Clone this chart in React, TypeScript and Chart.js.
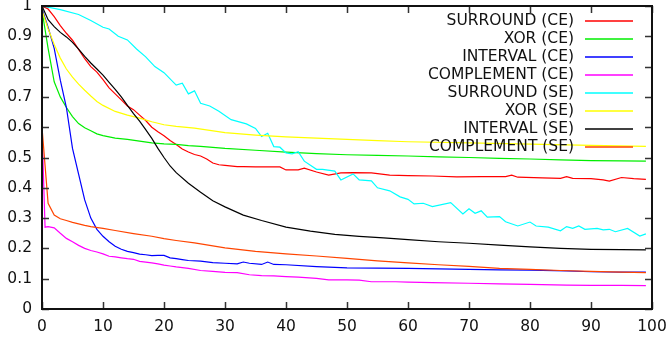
import React, { useEffect, useRef } from "react";
import { Chart, registerables } from "chart.js";

Chart.register(...registerables);

// ---- tick labels ----
const xTickLabels = ["0", "10", "20", "30", "40", "50", "60", "70", "80", "90", "100"];
const yTickLabels = ["0", "0.1", "0.2", "0.3", "0.4", "0.5", "0.6", "0.7", "0.8", "0.9", "1"];

// ---- series labels ----
const seriesLabels = [
  "SURROUND (CE)",
  "XOR (CE)",
  "INTERVAL (CE)",
  "COMPLEMENT (CE)",
  "SURROUND (SE)",
  "XOR (SE)",
  "INTERVAL (SE)",
  "COMPLEMENT (SE)",
];
const seriesColors = ["#ff0000", "#00ee00", "#0000ff", "#ff00ff", "#00ffff", "#ffff00", "#000000", "#ff4500"];

// ---- SURROUND (CE) ----
const surroundCeX = [0, 1, 2, 3, 4, 5, 6, 7, 8, 9, 10, 11, 12, 13, 14, 15, 16, 17, 18, 19, 20, 21, 22, 23, 24, 25, 26, 27, 28, 29, 30, 32, 33, 35, 37, 39, 40, 42, 43, 45, 47, 49, 51, 54, 57, 60, 64, 68, 72, 76, 77, 78, 82, 85, 86, 87, 90, 92, 93, 95, 97, 99];
const surroundCeY = [1.0, 0.99, 0.965, 0.935, 0.91, 0.887, 0.857, 0.826, 0.8, 0.782, 0.757, 0.73, 0.71, 0.69, 0.67, 0.658, 0.64, 0.622, 0.6, 0.585, 0.572, 0.556, 0.543, 0.528, 0.518, 0.51, 0.505, 0.495, 0.482, 0.476, 0.474, 0.47, 0.47, 0.469, 0.469, 0.469, 0.459, 0.459, 0.465, 0.452, 0.442, 0.449, 0.45, 0.449, 0.442, 0.44, 0.439, 0.436, 0.437, 0.437, 0.442, 0.435, 0.433, 0.431, 0.437, 0.431, 0.43, 0.426, 0.422, 0.434, 0.43, 0.428];

// ---- XOR (CE) ----
const xorCeX = [0, 1, 2, 3, 4, 5, 6, 7, 8, 9, 10, 12, 14, 16, 18, 20, 22, 24, 26, 30, 35, 40, 45, 50, 55, 60, 65, 70, 75, 80, 85, 90, 95, 99];
const xorCeY = [0.985, 0.86, 0.75, 0.7, 0.665, 0.635, 0.612, 0.598, 0.588, 0.578, 0.572, 0.564, 0.56, 0.554, 0.548, 0.545, 0.543, 0.539, 0.537, 0.53, 0.524, 0.518, 0.513, 0.509, 0.507, 0.505, 0.502, 0.5, 0.497, 0.495, 0.492, 0.49, 0.489, 0.488];

// ---- INTERVAL (CE) ----
const intervalCeX = [0, 1, 2, 3, 4, 5, 6, 7, 8, 9, 10, 11, 12, 13, 14, 15, 16, 17, 18, 19, 20, 21, 22, 23, 24, 26, 28, 30, 32, 33, 34, 36, 37, 38, 40, 45, 50, 55, 60, 70, 75, 80, 86, 90, 95, 99];
const intervalCeY = [0.99, 0.93, 0.86, 0.755, 0.665, 0.53, 0.445, 0.36, 0.3, 0.263, 0.24, 0.222, 0.207, 0.197, 0.19, 0.186, 0.181, 0.179, 0.176, 0.177, 0.177, 0.169, 0.166, 0.163, 0.16, 0.158, 0.153, 0.151, 0.149, 0.155, 0.151, 0.147, 0.155, 0.147, 0.146, 0.14, 0.136, 0.135, 0.134, 0.131, 0.129, 0.128, 0.126, 0.123, 0.122, 0.122];

// ---- COMPLEMENT (CE) ----
const complementCeX = [0, 0.5, 1, 2, 3, 4, 5, 6, 7, 8, 9, 10, 11, 12, 13, 14, 15, 16, 17, 18, 19, 20, 21, 22, 24, 26, 28, 30, 32, 34, 36, 38, 40, 42, 45, 47, 50, 52, 54, 58, 60, 64, 70, 75, 80, 86, 90, 95, 99];
const complementCeY = [0.6, 0.27, 0.272, 0.268, 0.25, 0.233, 0.222, 0.21, 0.2, 0.193, 0.188, 0.182, 0.174, 0.172, 0.169, 0.166, 0.164, 0.157, 0.155, 0.152, 0.149, 0.145, 0.142, 0.139, 0.134, 0.127, 0.124, 0.121, 0.12, 0.113, 0.11, 0.109, 0.107, 0.105, 0.101, 0.096, 0.096, 0.095, 0.09, 0.09, 0.089, 0.087, 0.085, 0.083, 0.081, 0.079, 0.078, 0.078, 0.077];

// ---- SURROUND (SE) ----
const surroundSeX = [0, 3, 6, 8, 10, 11, 12.5, 14, 15.5, 17, 18.5, 20, 22, 23, 24, 25, 26, 27.5, 29, 31, 33.5, 35, 36, 37, 38, 39, 40, 41, 42, 43, 45, 46, 48, 49, 51, 52, 54, 55, 57, 58.7, 60, 61, 62.5, 64, 67, 69, 70, 71, 72, 73, 75, 76, 78, 80, 81, 83, 85, 86, 87, 88, 89, 91, 92, 93, 94, 96, 98, 99];
const surroundSeY = [1.0, 0.988, 0.972, 0.952, 0.93, 0.924, 0.9, 0.888, 0.858, 0.832, 0.8, 0.78, 0.739, 0.745, 0.71, 0.72, 0.679, 0.67, 0.653, 0.625, 0.611, 0.596, 0.569, 0.58, 0.536, 0.534, 0.515, 0.512, 0.519, 0.488, 0.461, 0.461, 0.455, 0.426, 0.446, 0.426, 0.423, 0.4, 0.39, 0.37, 0.362, 0.347, 0.349, 0.338, 0.351, 0.314, 0.331, 0.316, 0.324, 0.303, 0.305, 0.288, 0.274, 0.287, 0.274, 0.27, 0.258, 0.272, 0.266, 0.274, 0.263, 0.266, 0.261, 0.263, 0.255, 0.266, 0.241, 0.248];

// ---- XOR (SE) ----
const xorSeX = [0, 1, 2, 3, 4, 5, 6, 7, 8, 9, 10, 12, 14, 16, 18, 20, 22, 25, 30, 35, 40, 46, 50, 55, 60, 70, 80, 90, 99];
const xorSeY = [0.985, 0.925, 0.873, 0.828, 0.792, 0.765, 0.742, 0.722, 0.703, 0.685, 0.672, 0.652, 0.64, 0.63, 0.618, 0.608, 0.603, 0.597, 0.582, 0.574, 0.568, 0.563, 0.56, 0.556, 0.552, 0.548, 0.544, 0.54, 0.537];

// ---- INTERVAL (SE) ----
const intervalSeX = [0, 1, 2, 3, 4, 5, 6, 7, 8, 9, 10, 11, 12, 13, 14, 15, 16, 17, 18, 19, 20, 21, 22, 24, 26, 28, 30, 33, 36, 40, 44, 48, 52, 56, 60, 65, 70, 75, 80, 85, 90, 95, 99];
const intervalSeY = [1.0, 0.955, 0.932, 0.913, 0.898, 0.88, 0.858, 0.834, 0.812, 0.792, 0.772, 0.748, 0.725, 0.7, 0.672, 0.645, 0.62, 0.592, 0.563, 0.53, 0.5, 0.472, 0.45, 0.415, 0.385, 0.357, 0.337, 0.31, 0.292, 0.27, 0.257, 0.246, 0.24, 0.235, 0.229, 0.222, 0.217, 0.211, 0.205, 0.2, 0.197, 0.196, 0.195];

// ---- COMPLEMENT (SE) ----
const complementSeX = [0, 1, 2, 3, 4, 5, 6, 7, 8, 10, 12, 15, 18, 20, 22, 25, 30, 35, 40, 45, 50, 55, 60, 65, 70, 75, 80, 85, 90, 95, 99];
const complementSeY = [0.6, 0.349, 0.31, 0.298, 0.292, 0.286, 0.281, 0.276, 0.272, 0.266, 0.259, 0.249, 0.24, 0.232, 0.226, 0.218, 0.202, 0.19, 0.182, 0.175, 0.167, 0.159, 0.152, 0.146, 0.141, 0.134, 0.131, 0.127, 0.124, 0.122, 0.12];

const seriesX = [surroundCeX, xorCeX, intervalCeX, complementCeX, surroundSeX, xorSeX, intervalSeX, complementSeX];
const seriesY = [surroundCeY, xorCeY, intervalCeY, complementCeY, surroundSeY, xorSeY, intervalSeY, complementSeY];

const FONT = '"DejaVu Sans", sans-serif';
const FONT_SIZE = 15.5;

const framePlugin = {
  id: "gpFrame",
  afterDraw(chart: any) {
    const { ctx, chartArea } = chart;
    const { left, right, top, bottom } = chartArea;
    const xs = chart.scales.x;
    const ys = chart.scales.y;
    ctx.save();
    // ticks (inward, mirrored)
    ctx.strokeStyle = "#333";
    ctx.lineWidth = 1.5;
    const tl = 7;
    xs.ticks.forEach((t: any) => {
      const px = Math.round(xs.getPixelForValue(t.value)) + 0.5;
      ctx.beginPath();
      ctx.moveTo(px, bottom);
      ctx.lineTo(px, bottom - tl);
      ctx.moveTo(px, top);
      ctx.lineTo(px, top + tl);
      ctx.stroke();
    });
    ys.ticks.forEach((t: any) => {
      const py = Math.round(ys.getPixelForValue(t.value)) + 0.5;
      ctx.beginPath();
      ctx.moveTo(left, py);
      ctx.lineTo(left + tl, py);
      ctx.moveTo(right, py);
      ctx.lineTo(right - tl, py);
      ctx.stroke();
    });
    // border
    ctx.strokeStyle = "#111";
    ctx.lineWidth = 2;
    ctx.strokeRect(left, top, right - left, bottom - top);

    // legend (gnuplot style: text right aligned, sample to the right)
    ctx.font = `${FONT_SIZE}px ${FONT}`;
    ctx.textAlign = "right";
    ctx.textBaseline = "middle";
    seriesLabels.forEach((label, i) => {
      const y = 20.5 + i * 18.1;
      ctx.fillStyle = "#111";
      ctx.fillText(label, 574, y);
      ctx.strokeStyle = seriesColors[i];
      ctx.lineWidth = 1.5;
      ctx.beginPath();
      ctx.moveTo(585, Math.round(y));
      ctx.lineTo(633, Math.round(y));
      ctx.stroke();
    });
    ctx.restore();
  },
};

export default function App() {
  const canvasRef = useRef<HTMLCanvasElement | null>(null);

  useEffect(() => {
    if (!canvasRef.current) return;
    const datasets = seriesLabels.map((label, i) => ({
      label,
      data: seriesX[i].map((x, j) => ({ x, y: seriesY[i][j] })),
      borderColor: seriesColors[i],
      backgroundColor: seriesColors[i],
      borderWidth: 1.2,
      pointRadius: 0,
      tension: 0,
      fill: false,
      order: -i,
    }));

    const chart = new Chart(canvasRef.current, {
      type: "line",
      data: { datasets },
      options: {
        animation: false,
        responsive: true,
        maintainAspectRatio: false,
        layout: { padding: { top: 6, right: 16, left: 0, bottom: 0 } },
        plugins: {
          legend: { display: false },
          tooltip: { enabled: false },
        },
        scales: {
          x: {
            type: "linear",
            min: 0,
            max: 100,
            border: { display: false },
            grid: { display: false, drawTicks: false },
            ticks: {
              stepSize: 10,
              autoSkip: false,
              maxRotation: 0,
              padding: 9,
              color: "#111",
              font: { family: FONT, size: FONT_SIZE },
              callback: (v: any) => xTickLabels[Math.round(Number(v) / 10)],
            },
            afterFit: (s: any) => {
              s.height = 32;
              s.paddingLeft = 0;
              s.paddingRight = 0;
            },
          },
          y: {
            type: "linear",
            min: 0,
            max: 1,
            border: { display: false },
            grid: { display: false, drawTicks: false },
            ticks: {
              stepSize: 0.1,
              autoSkip: false,
              padding: 10,
              color: "#111",
              font: { family: FONT, size: FONT_SIZE },
              callback: (v: any) => yTickLabels[Math.round(Number(v) * 10)],
            },
            afterFit: (s: any) => {
              s.width = 42;
              s.paddingTop = 0;
              s.paddingBottom = 0;
            },
          },
        },
      },
      plugins: [framePlugin],
    });
    return () => chart.destroy();
  }, []);

  return (
    <div style={{ position: "absolute", left: 0, top: 0, width: 668, height: 341, background: "#fff" }}>
      <canvas ref={canvasRef} />
    </div>
  );
}
